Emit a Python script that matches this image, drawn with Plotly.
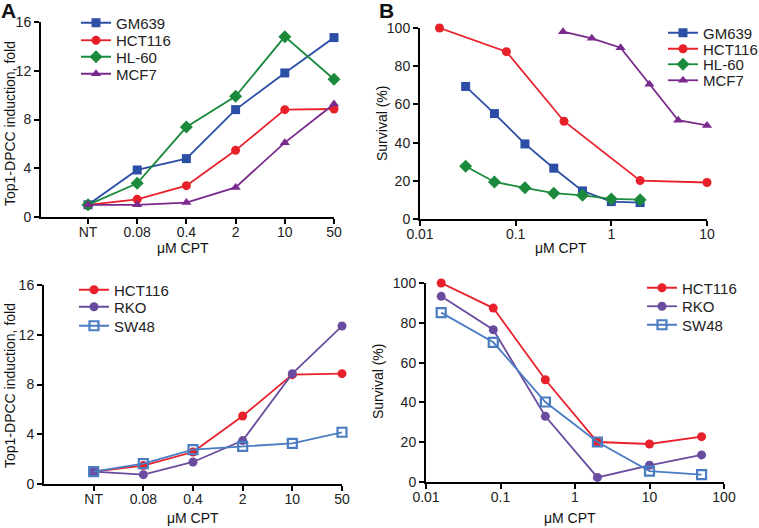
import plotly.graph_objects as go

W, H = 759, 528

# ---------------- data ----------------
cat_labels = ["NT", "0.08", "0.4", "2", "10", "50"]

# Panel A top (fold induction)
a_gm639 = [1.0, 3.86, 4.79, 8.81, 11.82, 14.72]
a_hct116 = [1.0, 1.45, 2.57, 5.47, 8.81, 8.86]
a_hl60 = [1.0, 2.76, 7.38, 9.9, 14.8, 11.3]
a_mcf7 = [1.0, 1.0, 1.18, 2.43, 6.1, 9.27]

# Panel A bottom
a2_hct116 = [1.0, 1.48, 2.57, 5.47, 8.79, 8.87]
a2_rko = [1.0, 0.75, 1.77, 3.49, 8.87, 12.7]
a2_sw48 = [1.0, 1.64, 2.76, 3.03, 3.27, 4.16]

# Panel B top (survival)
b_gm639_x = [0.03, 0.06, 0.125, 0.25, 0.5, 1, 2]
b_gm639_y = [69.4, 55.2, 39.3, 26.6, 14.7, 9.1, 8.6]
b_hct116_x = [0.016, 0.08, 0.32, 2, 10]
b_hct116_y = [100, 87.6, 51.2, 20.1, 19.1]
b_hl60_x = [0.03, 0.06, 0.125, 0.25, 0.5, 1, 2]
b_hl60_y = [27.6, 19.4, 16.3, 13.5, 12.4, 10.5, 10.1]
b_mcf7_x = [0.3125, 0.625, 1.25, 2.5, 5, 10]
b_mcf7_y = [98.1, 94.6, 89.7, 70.5, 51.7, 49.0]

# Panel B bottom
b2_x = [0.016, 0.08, 0.4, 2, 10, 50]
b2_hct116 = [100, 87.4, 51.4, 20.1, 19.1, 22.8]
b2_rko = [93.3, 76.5, 33.0, 2.3, 8.4, 13.6]
b2_sw48 = [85.1, 70.2, 40.2, 20.1, 5.5, 3.7]

log_ticks = [0.01, 0.1, 1, 10, 100]
log_ticktext = ["0.01", "0.1", "1", "10", "100"]

# ---------------- style ----------------
FONT = "Liberation Sans, Arial, Helvetica, sans-serif"
C_GM = "#2C4FA6"
C_HCT = "#E8202A"
C_HL = "#1B8A3C"
C_MCF = "#7A2A8C"
C_RKO = "#6A4C9E"
C_SW = "#4A7CC2"


def px_x(p):
    return p / W


def px_y(p):
    return 1 - p / H


fig = go.Figure()
legend_layouts = {}
leg_count = [0]


def add(x, y, name, color, symbol, xa, ya, leg_px, size=9, open_=False):
    leg_count[0] += 1
    lid = "legend" if leg_count[0] == 1 else "legend%d" % leg_count[0]
    marker = dict(symbol=symbol, size=size, color=color)
    if open_:
        marker = dict(symbol="square-open", size=size, color=color,
                      line=dict(width=2.2, color=color))
    fig.add_trace(go.Scatter(
        x=x, y=y, name=name, mode="lines+markers",
        line=dict(color=color, width=1.8),
        marker=marker, xaxis=xa, yaxis=ya, legend=lid, cliponaxis=False,
    ))
    lx, ly = leg_px
    legend_layouts[lid] = dict(
        x=px_x(lx - 4), y=px_y(ly), xanchor="left", yanchor="middle",
        bgcolor="rgba(0,0,0,0)", font=dict(family=FONT, size=15, color="#222"),
        itemwidth=30,
    )


xi = list(range(len(cat_labels)))
add(xi, a_gm639, "GM639", C_GM, "square", "x", "y", (80, 23))
add(xi, a_hct116, "HCT116", C_HCT, "circle", "x", "y", (80, 40.5))
add(xi, a_hl60, "HL-60", C_HL, "diamond", "x", "y", (80, 57), size=10)
add(xi, a_mcf7, "MCF7", C_MCF, "triangle-up", "x", "y", (80, 74))

add(b_gm639_x, b_gm639_y, "GM639", C_GM, "square", "x2", "y2", (667, 33))
add(b_hct116_x, b_hct116_y, "HCT116", C_HCT, "circle", "x2", "y2", (667, 49))
add(b_hl60_x, b_hl60_y, "HL-60", C_HL, "diamond", "x2", "y2", (667, 64.5), size=10)
add(b_mcf7_x, b_mcf7_y, "MCF7", C_MCF, "triangle-up", "x2", "y2", (667, 80.5))

add(xi, a2_hct116, "HCT116", C_HCT, "circle", "x3", "y3", (78, 290))
add(xi, a2_rko, "RKO", C_RKO, "circle", "x3", "y3", (78, 307))
add(xi, a2_sw48, "SW48", C_SW, "square", "x3", "y3", (78, 326), open_=True)

add(b2_x, b2_hct116, "HCT116", C_HCT, "circle", "x4", "y4", (646, 288))
add(b2_x, b2_rko, "RKO", C_RKO, "circle", "x4", "y4", (646, 306.5))
add(b2_x, b2_sw48, "SW48", C_SW, "square", "x4", "y4", (646, 325), open_=True)

axis_common = dict(
    showline=True, linecolor="black", linewidth=2, ticks="outside", ticklen=5,
    tickwidth=2, tickcolor="black", showgrid=False, zeroline=False,
    tickfont=dict(family=FONT, size=14, color="#222"),
)
xaxis_common = dict(axis_common, ticklabelstandoff=-4)

fig.update_layout(
    width=W, height=H, margin=dict(l=0, r=0, t=0, b=0, autoexpand=False),
    paper_bgcolor="white", plot_bgcolor="white",
    font=dict(family=FONT, color="#222"),
    xaxis=dict(domain=[px_x(41), px_x(334)], range=[-0.955, 5], tickvals=xi,
               ticktext=cat_labels, anchor="y", **xaxis_common),
    yaxis=dict(domain=[px_y(217), px_y(22)], range=[0, 16], tickvals=[0, 4, 8, 12, 16],
               anchor="x", **axis_common),
    xaxis2=dict(domain=[px_x(420), px_x(707)], type="log", range=[-2, 1],
                tickvals=log_ticks[:4], ticktext=log_ticktext[:4], anchor="y2", **xaxis_common),
    yaxis2=dict(domain=[px_y(219), px_y(28)], range=[0, 100], tickvals=[0, 20, 40, 60, 80, 100],
                anchor="x2", **axis_common),
    xaxis3=dict(domain=[px_x(44), px_x(342)], range=[-1.0, 5], tickvals=xi,
                ticktext=cat_labels, anchor="y3", **xaxis_common),
    yaxis3=dict(domain=[px_y(484), px_y(285)], range=[0, 16], tickvals=[0, 4, 8, 12, 16],
                anchor="x3", **axis_common),
    xaxis4=dict(domain=[px_x(426), px_x(724)], type="log", range=[-2, 2],
                tickvals=log_ticks, ticktext=log_ticktext, anchor="y4", **xaxis_common),
    yaxis4=dict(domain=[px_y(482), px_y(283)], range=[0, 100], tickvals=[0, 20, 40, 60, 80, 100],
                anchor="x4", **axis_common),
    showlegend=True,
)
fig.update_layout(**legend_layouts)

annots = [
    dict(text="<b>A</b>", x=px_x(-1), y=px_y(-3), xanchor="left", yanchor="top", size=21),
    dict(text="<b>B</b>", x=px_x(377), y=px_y(-3), xanchor="left", yanchor="top", size=21),
    dict(text="μM CPT", x=px_x(183), y=px_y(247.5), xanchor="center", yanchor="middle", size=14),
    dict(text="μM CPT", x=px_x(561), y=px_y(247.5), xanchor="center", yanchor="middle", size=14),
    dict(text="μM CPT", x=px_x(193), y=px_y(518), xanchor="center", yanchor="middle", size=14),
    dict(text="μM CPT", x=px_x(570), y=px_y(518), xanchor="center", yanchor="middle", size=14),
]
for a in annots:
    fig.add_annotation(text=a["text"], x=a["x"], y=a["y"], xref="paper", yref="paper",
                       xanchor=a["xanchor"], yanchor=a["yanchor"], showarrow=False,
                       font=dict(family=FONT, size=a["size"], color="#111"))

ytitles = [
    ("Top1-DPCC induction, fold", 10, 124),
    ("Survival (%)", 382, 124),
    ("Top1-DPCC induction, fold", 10, 386),
    ("Survival (%)", 378, 382),
]
for t, x, y in ytitles:
    fig.add_annotation(text=t, x=px_x(x), y=px_y(y), xref="paper", yref="paper",
                       xanchor="center", yanchor="middle", textangle=-90, showarrow=False,
                       font=dict(family=FONT, size=14, color="#111"))

fig.write_html("out.html", config={"displayModeBar": False},
               post_script="document.body.style.margin='0';document.body.style.overflow='hidden';")
